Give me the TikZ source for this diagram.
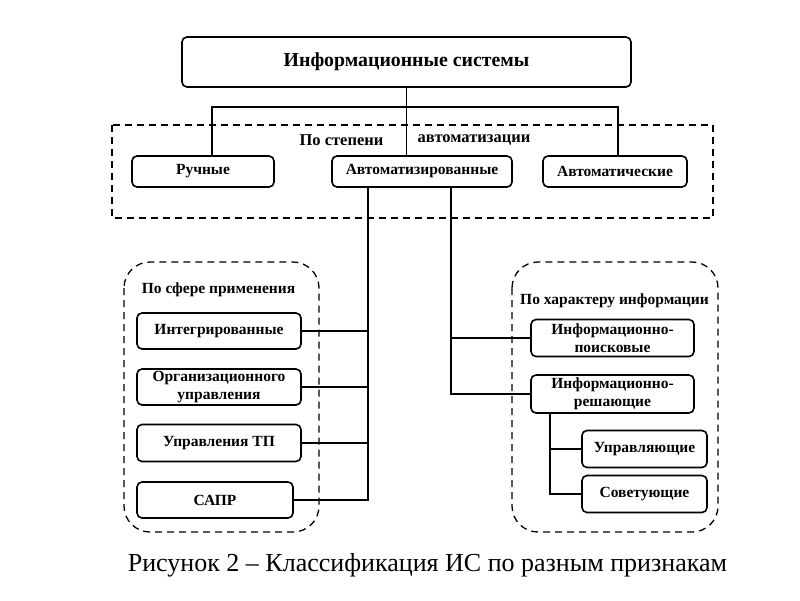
\documentclass[tikz,border=0pt]{standalone}
\usepackage{fontspec}
\setmainfont{Liberation Serif}
\begin{document}
\begin{tikzpicture}[x=1pt,y=-1pt,
  box/.style={draw,line width=1.6pt,rounded corners=5pt,align=center,
    font=\bfseries\fontsize{15.5}{18.5}\selectfont,inner sep=0pt},
  lbl/.style={font=\bfseries\fontsize{15.5}{17}\selectfont,inner sep=0pt},
  conn/.style={line width=1.5pt},
  group/.style={draw,line width=1.3pt,dash pattern=on 7pt off 5pt}]
\useasboundingbox (0,0) rectangle (800,600);
% groups
\draw[group] (112,125) rectangle (713,218);
\draw[group,rounded corners=26pt] (124,262) rectangle (319,532);
\draw[group,rounded corners=26pt] (512,262) rectangle (718,532);
% boxes
\node[box,minimum width=449pt,minimum height=50pt,font=\bfseries\fontsize{19.8}{22}\selectfont] (top) at (406.5,62) {Информационные системы};
\node[box,minimum width=142pt,minimum height=31pt] (ruch) at (203,171.5) {Ручные};
\node[box,minimum width=180pt,minimum height=31pt] (azd) at (422,171.5) {Автоматизированные};
\node[box,minimum width=144pt,minimum height=31pt] (avt) at (615,171.5) {Автоматические};
\node[box,minimum width=164pt,minimum height=36pt] (integ) at (219,331) {Интегрированные};
\node[box,minimum width=164pt,minimum height=36pt] (org) at (219,387) {Организационного\\управления};
\node[box,minimum width=164pt,minimum height=37pt] (tp) at (219,443) {Управления ТП};
\node[box,minimum width=156pt,minimum height=36pt] (sapr) at (215,500) {САПР};
\node[box,minimum width=163pt,minimum height=37pt] (ip) at (612.5,338) {Информационно-\\поисковые};
\node[box,minimum width=163pt,minimum height=38pt] (ir) at (612.5,394) {Информационно-\\решающие};
\node[box,minimum width=125pt,minimum height=37pt] (upr) at (644.5,449) {Управляющие};
\node[box,minimum width=125pt,minimum height=37pt] (sov) at (644.5,494) {Советующие};
% labels
\node[lbl,font=\bfseries\fontsize{16.5}{18}\selectfont] (l1a) at (341.5,140) {По степени};
\node[lbl,font=\bfseries\fontsize{16.5}{18}\selectfont] (l1b) at (474,140) {автоматизации};
\node[lbl] (l2) at (218.5,290) {По сфере применения};
\node[lbl] (l3) at (614.5,301) {По характеру информации};
\node[font=\fontsize{26}{28}\selectfont,inner sep=0pt] (cap) at (427.5,565) {Рисунок 2 – Классификация ИС по разным признакам};
% connectors
\coordinate (j) at (406.5,107);
\coordinate (jl) at (212,107);
\coordinate (jr) at (618,107);
\coordinate (L) at (368,0);
\coordinate (R) at (451,0);
\coordinate (S) at (550,0);
\draw[conn] (top.south) -- (j);
\draw[conn] (jl |- ruch.north) -- (jl) -- (jr) -- (jr |- avt.north);
\draw[conn] (j) -- (j |- azd.north);
\draw[conn] (L |- azd.south) -- (L |- sapr.east) -- (sapr.east);
\draw[conn] (integ.east) -- (integ.east -| L);
\draw[conn] (org.east) -- (org.east -| L);
\draw[conn] (tp.east) -- (tp.east -| L);
\draw[conn] (R |- azd.south) -- (R |- ir.west) -- (ir.west);
\draw[conn] (ip.west) -- (ip.west -| R);
\draw[conn] (S |- ir.south) -- (S |- sov.west) -- (sov.west);
\draw[conn] (upr.west) -- (upr.west -| S);
\end{tikzpicture}
\end{document}
